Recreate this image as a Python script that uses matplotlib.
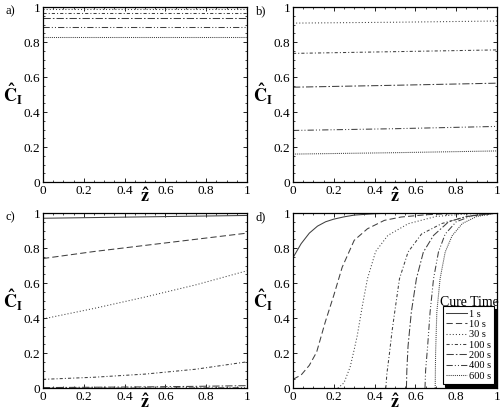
import matplotlib
matplotlib.use('Agg')
import matplotlib.pyplot as plt
from matplotlib.ticker import MultipleLocator, FuncFormatter

plt.rcParams['font.family'] = ['Liberation Serif', 'DejaVu Serif']
plt.rcParams['mathtext.fontset'] = 'stix'

# cure times and their line styles
cure_times = ['1 s', '10 s', '30 s', '100 s', '200 s', '400 s', '600 s']
styles = ['-', (0, (6, 3)), (0, (1, 2)), (0, (3, 2, 1, 2)),
          (0, (7, 2, 1.5, 2)), (0, (6, 2, 1, 2, 1, 2)), (0, (1, 1))]

# panel a) - nearly flat profiles
z_a = [0, 0.5, 1]
c_a = [
    [1.0, 1.0, 1.0],
    [0.998, 0.998, 0.998],
    [0.986, 0.986, 0.986],
    [0.966, 0.966, 0.966],
    [0.937, 0.937, 0.937],
    [0.883, 0.883, 0.883],
    [0.828, 0.828, 0.828],
]

# panel b)
z_b = [0, 0.5, 1]
c_b = [
    [1.0, 1.0, 1.0],
    [0.999, 0.999, 1.0],
    [0.908, 0.913, 0.92],
    [0.735, 0.745, 0.755],
    [0.542, 0.553, 0.565],
    [0.295, 0.305, 0.318],
    [0.16, 0.168, 0.178],
]

# panel c)
z_c = [0, 0.25, 0.5, 0.75, 1]
c_c = [
    [0.97, 0.974, 0.978, 0.982, 0.986],
    [0.74, 0.78, 0.815, 0.85, 0.885],
    [0.395, 0.455, 0.52, 0.59, 0.67],
    [0.05, 0.062, 0.08, 0.108, 0.15],
    [0.003, 0.005, 0.007, 0.01, 0.014],
    [0.0, 0.0, 0.0, 0.001, 0.002],
    [0.0, 0.0, 0.0, 0.0, 0.0],
]

# panel d) - fronts
z_d = [
    [0, 0.04, 0.08, 0.12, 0.16, 0.2, 0.25, 0.3, 0.4, 0.5, 1],
    [0, 0.04, 0.08, 0.116, 0.158, 0.2, 0.241, 0.3, 0.365, 0.448, 0.53, 0.65, 0.8, 1],
    [0.22, 0.25, 0.28, 0.3, 0.315, 0.34, 0.365, 0.405, 0.465, 0.565, 0.7, 0.85, 1],
    [0.455, 0.46, 0.473, 0.485, 0.498, 0.522, 0.564, 0.63, 0.73, 0.85, 1],
    [0.556, 0.558, 0.564, 0.58, 0.605, 0.639, 0.689, 0.763, 0.85, 1],
    [0.647, 0.65, 0.66, 0.672, 0.689, 0.713, 0.746, 0.8, 0.88, 1],
    [0.697, 0.699, 0.705, 0.721, 0.746, 0.78, 0.83, 0.9, 1],
]
c_d = [
    [0.745, 0.825, 0.885, 0.925, 0.95, 0.965, 0.978, 0.988, 0.996, 1, 1],
    [0.05, 0.075, 0.13, 0.206, 0.377, 0.53, 0.69, 0.844, 0.91, 0.958, 0.977, 0.99, 0.998, 1],
    [0.0, 0.03, 0.12, 0.22, 0.3, 0.47, 0.625, 0.78, 0.872, 0.939, 0.98, 0.995, 1],
    [0.0, 0.08, 0.2, 0.32, 0.43, 0.625, 0.777, 0.88, 0.94, 0.98, 1],
    [0.0, 0.1, 0.24, 0.434, 0.625, 0.777, 0.872, 0.95, 0.98, 1],
    [0.0, 0.1, 0.24, 0.434, 0.625, 0.777, 0.88, 0.95, 0.985, 1],
    [0.0, 0.2, 0.434, 0.625, 0.777, 0.87, 0.94, 0.98, 1],
]

panels = [
    ('a)', z_a, c_a, [0.086, 0.558, 0.408, 0.425]),
    ('b)', z_b, c_b, [0.586, 0.558, 0.408, 0.425]),
    ('c)', z_c, c_c, [0.086, 0.058, 0.408, 0.425]),
    ('d)', z_d, c_d, [0.586, 0.058, 0.408, 0.425]),
]

fig = plt.figure(figsize=(5.0, 4.12), dpi=100)
fmt = FuncFormatter(lambda v, p: '%g' % round(v, 2))

for tag, zs, cs, rect in panels:
    ax = fig.add_axes(rect)
    for i, name in enumerate(cure_times):
        zz = zs[i] if tag == 'd)' else zs
        ax.plot(zz, cs[i], color='0.25', lw=0.75, ls=styles[i], label=name)
    ax.set_xlim(0, 1)
    ax.set_ylim(0, 1)
    for a in (ax.xaxis, ax.yaxis):
        a.set_major_locator(MultipleLocator(0.2))
        a.set_minor_locator(MultipleLocator(0.05))
        a.set_major_formatter(fmt)
    ax.tick_params(which='both', direction='in', top=True, right=True,
                   labelsize=9.5, pad=2)
    ax.tick_params(which='major', length=3, width=0.6)
    ax.tick_params(which='minor', length=1.5, width=0.5)
    for s in ax.spines.values():
        s.set_linewidth(0.9)
    ax.set_xlabel(r'$\mathbf{\hat{z}}$', fontsize=13, labelpad=-7)
    ax.set_ylabel(r'$\mathbf{\hat{C}_I}$', fontsize=13, rotation=0,
                  labelpad=8, va='center')
    fig.text(rect[0] - 0.075, rect[1] + rect[3] + 0.003, tag, fontsize=9,
             va='top')
    if tag == 'd)':
        leg = ax.legend(loc='lower right', bbox_to_anchor=(0.985, 0.025),
                        fontsize=7.5, frameon=True, fancybox=False,
                        edgecolor='black', framealpha=1,
                        shadow={'color': 'black', 'alpha': 1},
                        handlelength=2.0, handletextpad=0.2,
                        labelspacing=0.1, borderpad=0.3,
                        borderaxespad=0.0)
        leg.get_frame().set_linewidth(0.8)
        ax.text(0.865, 0.49, 'Cure Time', transform=ax.transAxes,
                fontsize=10, ha='center', va='center')

fig.savefig('out.png', dpi=100)
